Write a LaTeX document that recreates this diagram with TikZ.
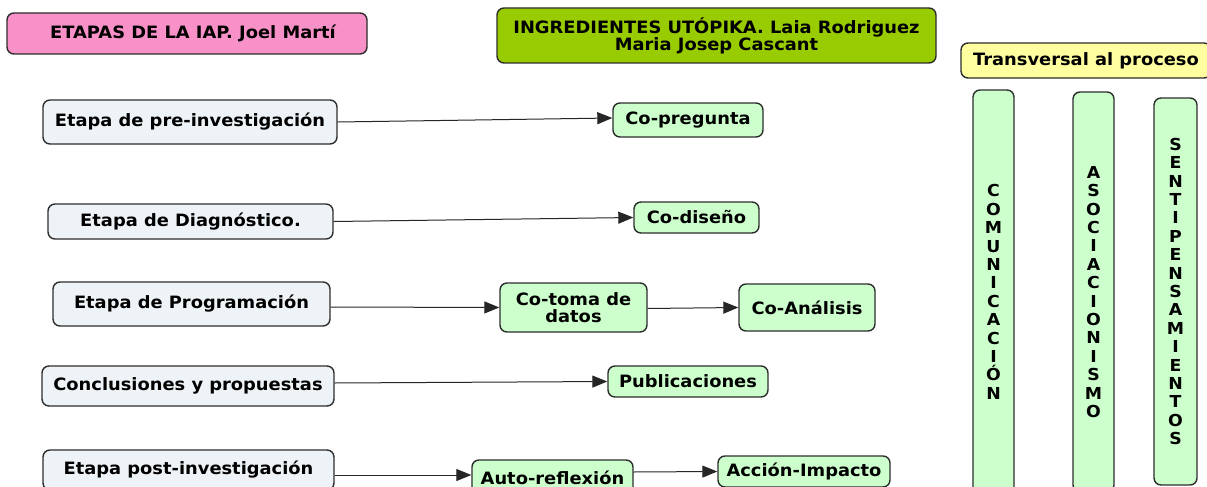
\documentclass[tikz,border=0pt]{standalone}
\usepackage{fontspec}
\setmainfont{DejaVu Sans}[BoldFeatures={FakeStretch=1.05}]
\usetikzlibrary{arrows.meta}
\definecolor{pinkfill}{RGB}{247,145,200}
\definecolor{olivefill}{RGB}{153,204,0}
\definecolor{yellowfill}{RGB}{255,255,160}
\definecolor{grayfill}{RGB}{237,243,246}
\definecolor{greenfill}{RGB}{204,255,204}
\definecolor{edgecol}{RGB}{45,45,45}
\tikzset{
  box/.style={draw=edgecol, line width=1.4pt, rounded corners=7pt, inner sep=0pt,
    font=\fontsize{17}{17}\selectfont\bfseries, align=center},
  stage/.style={box, fill=grayfill},
  ingr/.style={box, fill=greenfill},
  col/.style={box, fill=greenfill, font=\fontsize{16.5}{18.4}\selectfont\bfseries},
  conn/.style={line width=1pt, draw=black!85, -{Triangle[length=15pt,width=12pt]}},
}
\begin{document}
\begin{tikzpicture}[x=1pt,y=-1pt]
\useasboundingbox (0,0) rectangle (1207,487);
\clip (0,0) rectangle (1207,487);
\fill[white] (0,0) rectangle (1207,487);
% titles
\node[box, fill=pinkfill, minimum width=360, minimum height=41] (t1) at (187,33.5) {\hspace{12pt}ETAPAS DE LA IAP. Joel Martí};
\node[box, fill=olivefill, minimum width=439, minimum height=55] (t2) at (716.5,35.5) {INGREDIENTES UTÓPIKA. Laia Rodriguez\\Maria Josep Cascant};
\node[box, fill=yellowfill, minimum width=250, minimum height=35] (t3) at (1086,60.5) {Transversal al proceso};
% stages
\node[stage, minimum width=294, minimum height=44] (pre) at (190,122) {Etapa de pre-investigación};
\node[stage, minimum width=285, minimum height=35] (diag) at (190.5,221.5) {Etapa de Diagnóstico.};
\node[stage, minimum width=277, minimum height=44] (prog) at (191.5,304) {Etapa de Programación};
\node[stage, minimum width=292, minimum height=40] (concl) at (188,386) {Conclusiones y propuestas};
\node[stage, minimum width=291, minimum height=40] (post) at (188.5,470) {Etapa post-investigación};
% ingredients
\node[ingr, minimum width=150, minimum height=34] (copreg) at (688,120) {Co-pregunta};
\node[ingr, minimum width=125, minimum height=31] (codis) at (696.5,217.5) {Co-diseño};
\node[ingr, minimum width=147, minimum height=49] (cotoma) at (573.5,307.5) {Co-toma de\\datos};
\node[ingr, minimum width=136, minimum height=47] (coanal) at (807,307.5) {Co-Análisis};
\node[ingr, minimum width=160, minimum height=31] (publ) at (688,381.5) {Publicaciones};
\node[ingr, minimum width=161, minimum height=36] (auto) at (552.5,478) {Auto-reflexión};
\node[ingr, minimum width=172, minimum height=31] (accion) at (804,471.5) {Acción-Impacto};
% columns
\node[col, minimum width=41, minimum height=404] (com) at (993.5,292) {C\\O\\M\\U\\N\\I\\C\\A\\C\\I\\Ó\\N};
\node[col, minimum width=41, minimum height=400] (aso) at (1093.5,292) {A\\S\\O\\C\\I\\A\\C\\I\\O\\N\\I\\S\\M\\O};
\node[col, minimum width=43, minimum height=387] (sen) at (1175.5,291.5) {S\\E\\N\\T\\I\\P\\E\\N\\S\\A\\M\\I\\E\\N\\T\\O\\S};
% connectors
\draw[conn] (pre.east) -- ([yshift=2pt]copreg.west);
\draw[conn] (diag.east) -- ([yshift=0pt]codis.west);
\draw[conn] ([yshift=-3pt]prog.east) -- (cotoma.west);
\draw[conn] ([yshift=-1pt]cotoma.east) -- (coanal.west);
\draw[conn] ([yshift=3pt]concl.east) -- (publ.west);
\draw[conn] ([yshift=-5pt]post.east) -- ([yshift=3pt]auto.west);
\draw[conn] ([yshift=6pt]auto.east) -- (accion.west);
\end{tikzpicture}
\end{document}
